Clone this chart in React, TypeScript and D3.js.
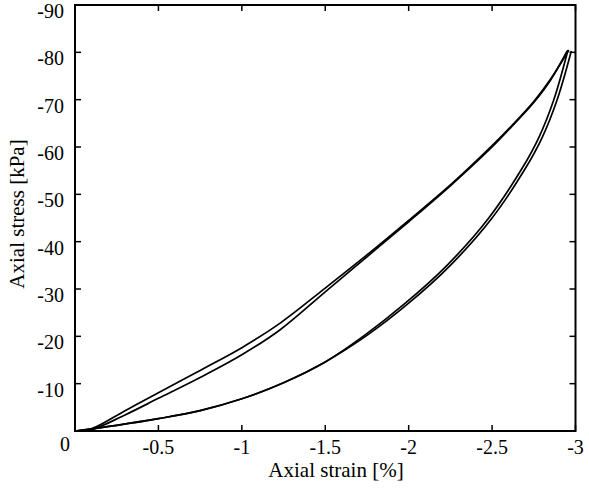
import React from "react";
import * as d3 from "d3";

// Loading branches (two cycles)
const loadStrainA = [0, -0.1, -0.3, -0.5, -0.75, -1.0, -1.23, -1.5, -1.75, -2.0, -2.25, -2.5, -2.62, -2.75, -2.85, -2.96];
const loadStressA = [0, -0.5, -4.3, -8.1, -12.8, -17.6, -22.8, -30.2, -37.2, -44.5, -52.0, -60.3, -64.6, -69.6, -74.3, -80.5];
const loadStrainB = [0, -0.1, -0.3, -0.5, -0.75, -1.0, -1.23, -1.5, -1.75, -2.0, -2.25, -2.5, -2.62, -2.75, -2.85, -2.95];
const loadStressB = [0, -0.3, -3.4, -6.9, -11.3, -16.1, -21.4, -29.4, -36.8, -44.2, -51.8, -60.0, -64.4, -69.4, -74.1, -80.3];

// Unloading branches (two cycles), ordered from origin to peak
const unloadStrainA = [0, -0.25, -0.5, -0.75, -1.0, -1.25, -1.5, -1.75, -2.0, -2.25, -2.5, -2.7, -2.8, -2.89, -2.975];
const unloadStressA = [0, -1.2, -2.6, -4.3, -6.8, -10.2, -14.6, -20.2, -27.0, -35.0, -45.0, -55.5, -62.0, -70.0, -80.3];
const unloadStrainB = [0, -0.25, -0.5, -0.75, -1.0, -1.25, -1.5, -1.735, -1.98, -2.23, -2.48, -2.68, -2.78, -2.87, -2.955];
const unloadStressB = [0, -1.2, -2.6, -4.3, -6.8, -10.2, -14.6, -20.2, -27.0, -35.0, -45.0, -55.5, -62.0, -70.0, -80.5];

const xTicks = [-0.5, -1, -1.5, -2, -2.5, -3];
const xTickLabels = ["-0.5", "-1", "-1.5", "-2", "-2.5", "-3"];
const yTicks = [-10, -20, -30, -40, -50, -60, -70, -80, -90];
const yTickLabels = ["-10", "-20", "-30", "-40", "-50", "-60", "-70", "-80", "-90"];

const W = 589;
const H = 489;
const L = 75, R = 575.5, T = 5, B = 431;

export default function App() {
  const x = d3.scaleLinear().domain([0, -3]).range([L, R]);
  const y = d3.scaleLinear().domain([0, -90]).range([B, T]);
  const line = d3
    .line<[number, number]>()
    .x((d) => x(d[0]))
    .y((d) => y(d[1]))
    .curve(d3.curveCatmullRom.alpha(0.5));
  const mk = (xs: number[], ys: number[]) => xs.map((v, i) => [v, ys[i]] as [number, number]);
  const series = [
    mk(loadStrainA, loadStressA),
    mk(loadStrainB, loadStressB),
    mk(unloadStrainA, unloadStressA),
    mk(unloadStrainB, unloadStressB),
  ];
  const font = "'Liberation Serif', 'Times New Roman', serif";
  const tl = 6;
  return (
    <svg
      width={W}
      height={H}
      style={{ position: "absolute", left: 0, top: 0, background: "#fff" }}
      fontFamily={font}
    >
      <rect x={0} y={0} width={W} height={H} fill="#fff" />
      {series.map((s, i) => (
        <path key={i} d={line(s) || ""} fill="none" stroke="#000" strokeWidth={1.7} strokeLinejoin="round" />
      ))}
      {xTicks.map((t) => (
        <g key={"xt" + t}>
          <line x1={x(t)} x2={x(t)} y1={B} y2={B - tl} stroke="#000" strokeWidth={1.5} />
          <line x1={x(t)} x2={x(t)} y1={T} y2={T + tl} stroke="#000" strokeWidth={1.5} />
        </g>
      ))}
      {yTicks.map((t) => (
        <g key={"yt" + t}>
          <line x1={L} x2={L + tl} y1={y(t)} y2={y(t)} stroke="#000" strokeWidth={1.5} />
          <line x1={R} x2={R - tl} y1={y(t)} y2={y(t)} stroke="#000" strokeWidth={1.5} />
        </g>
      ))}
      <rect x={L} y={T} width={R - L} height={B - T} fill="none" stroke="#000" strokeWidth={2} />
      {xTicks.map((t, i) => (
        <text key={"xl" + t} x={x(t)} y={454} textAnchor="middle" fontSize={20}>
          {xTickLabels[i]}
        </text>
      ))}
      <text x={65} y={451} textAnchor="middle" fontSize={20}>0</text>
      {yTicks.map((t, i) => (
        <text key={"yl" + t} x={64} y={y(t) + 13} textAnchor="end" fontSize={20}>
          {yTickLabels[i]}
        </text>
      ))}
      <text x={336} y={477} textAnchor="middle" fontSize={21}>Axial strain [%]</text>
      <text
        transform={`translate(24, 214) rotate(-90)`}
        textAnchor="middle"
        fontSize={21}
      >
        Axial stress [kPa]
      </text>
    </svg>
  );
}
